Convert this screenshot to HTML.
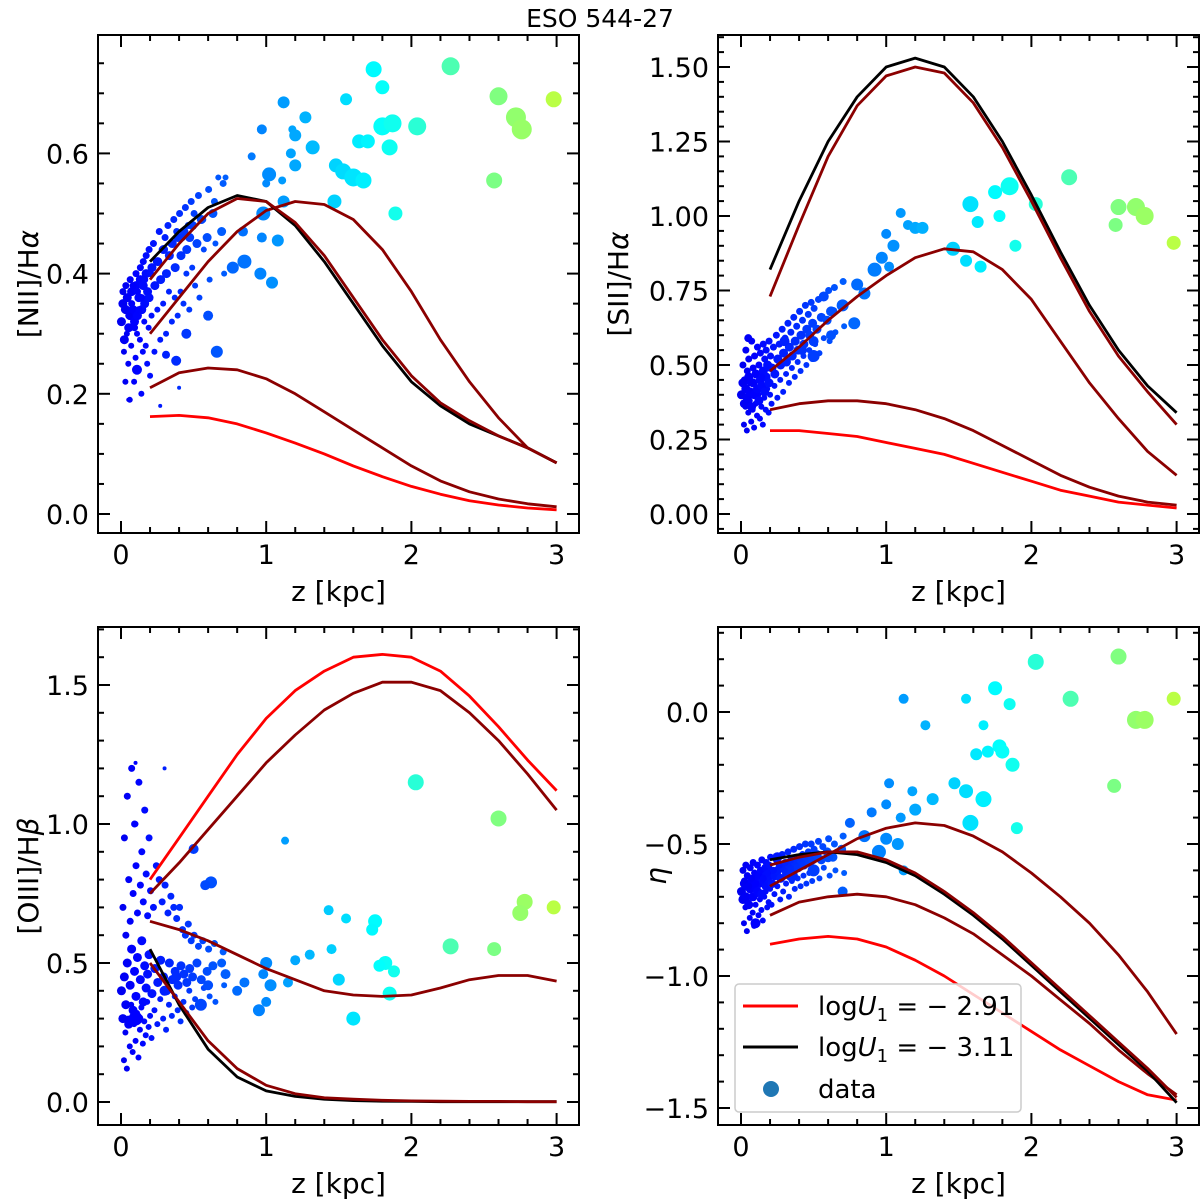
<!DOCTYPE html>
<html><head><meta charset="utf-8"><style>
body{margin:0;background:#fff}
svg{display:block;font-family:"DejaVu Sans","Liberation Sans",sans-serif}
</style></head><body>
<svg id="fig" width="1200" height="1202" viewBox="0 0 1200 1202" xmlns="http://www.w3.org/2000/svg">
<rect width="1200" height="1202" fill="#fff"/>
<text x="600" y="27" font-size="25" text-anchor="middle">ESO 544-27</text>
</svg>
<script>
const modelZ=[0.2,0.4,0.6,0.8,1.0,1.2,1.4,1.6,1.8,2.0,2.2,2.4,2.6,2.8,3.0];
const niiBlack=[0.42,0.47,0.51,0.53,0.52,0.48,0.42,0.35,0.28,0.22,0.18,0.15,0.13,0.11,0.085];
const niiDark1=[0.39,0.45,0.50,0.525,0.52,0.485,0.43,0.36,0.29,0.23,0.185,0.155,0.13,0.11,0.085];
const niiDark2=[0.30,0.36,0.42,0.47,0.505,0.52,0.515,0.49,0.44,0.37,0.29,0.22,0.16,0.11,0.085];
const niiDark3=[0.21,0.235,0.243,0.24,0.225,0.20,0.17,0.14,0.11,0.08,0.055,0.037,0.025,0.017,0.012];
const niiRed=[0.162,0.164,0.16,0.15,0.135,0.118,0.10,0.08,0.062,0.046,0.033,0.022,0.015,0.01,0.007];
const siiBlack=[0.82,1.05,1.25,1.40,1.50,1.53,1.50,1.40,1.25,1.07,0.88,0.70,0.55,0.43,0.34];
const siiDark1=[0.73,0.97,1.20,1.37,1.47,1.50,1.48,1.38,1.23,1.05,0.86,0.68,0.53,0.41,0.30];
const siiDark2=[0.48,0.56,0.65,0.73,0.80,0.86,0.89,0.88,0.82,0.72,0.58,0.44,0.32,0.21,0.13];
const siiDark3=[0.35,0.37,0.38,0.38,0.37,0.35,0.32,0.28,0.23,0.18,0.13,0.09,0.06,0.04,0.03];
const siiRed=[0.28,0.28,0.27,0.26,0.24,0.22,0.20,0.17,0.14,0.11,0.08,0.06,0.04,0.03,0.02];
const oiiiRed=[0.80,0.95,1.10,1.25,1.38,1.48,1.55,1.60,1.61,1.60,1.55,1.46,1.35,1.23,1.12];
const oiiiDark1=[0.75,0.86,0.98,1.10,1.22,1.32,1.41,1.47,1.51,1.51,1.48,1.40,1.30,1.18,1.05];
const oiiiDark2=[0.65,0.62,0.58,0.53,0.48,0.44,0.40,0.385,0.38,0.385,0.41,0.44,0.455,0.455,0.435];
const oiiiDark3=[0.50,0.36,0.22,0.12,0.06,0.03,0.015,0.01,0.006,0.004,0.003,0.002,0.002,0.001,0.001];
const oiiiBlack=[0.55,0.35,0.19,0.09,0.04,0.02,0.01,0.005,0.003,0.002,0.001,0.001,0.001,0.001,0.001];
const etaBlack=[-0.56,-0.54,-0.53,-0.54,-0.57,-0.62,-0.69,-0.77,-0.86,-0.96,-1.06,-1.16,-1.26,-1.36,-1.48];
const etaDark1=[-0.58,-0.55,-0.53,-0.53,-0.56,-0.61,-0.68,-0.76,-0.85,-0.95,-1.05,-1.15,-1.25,-1.35,-1.46];
const etaDark2=[-0.66,-0.60,-0.54,-0.48,-0.44,-0.42,-0.43,-0.47,-0.53,-0.61,-0.70,-0.80,-0.92,-1.06,-1.22];
const etaDark3=[-0.77,-0.72,-0.70,-0.69,-0.70,-0.73,-0.78,-0.84,-0.92,-1.00,-1.09,-1.18,-1.28,-1.37,-1.45];
const etaRed=[-0.88,-0.86,-0.85,-0.86,-0.89,-0.94,-1.00,-1.07,-1.14,-1.21,-1.28,-1.34,-1.40,-1.45,-1.47];

const cloudZ=[0.01,0.02,0.03,0.04,0.05,0.06,0.07,0.08,0.09,0.1,0.11,0.12,0.13,0.14,0.15,0.16,0.17,0.18,0.19,0.2,0.22,0.24,0.26,0.28,0.3,0.32,0.34,0.36,0.38,0.4,0.42,0.44,0.46,0.48,0.5,0.53,0.56,0.6,0.64,0.7];
const niiCloudLow=[0.27,0.22,0.3,0.25,0.19,0.28,0.31,0.22,0.26,0.3,0.24,0.29,0.2,0.27,0.32,0.28,0.25,0.31,0.23,0.33,0.27,0.34,0.29,0.35,0.3,0.37,0.32,0.36,0.33,0.37,0.35,0.4,0.34,0.41,0.38,0.36,0.44,0.39,0.45,0.4];
const niiCloudMid=[0.32,0.35,0.29,0.34,0.36,0.31,0.33,0.37,0.34,0.32,0.38,0.33,0.36,0.39,0.34,0.38,0.35,0.4,0.37,0.36,0.41,0.38,0.42,0.39,0.44,0.4,0.43,0.45,0.41,0.46,0.43,0.47,0.44,0.46,0.48,0.45,0.49,0.46,0.5,0.47];
const niiCloudHigh=[0.37,0.34,0.38,0.36,0.33,0.39,0.35,0.38,0.31,0.4,0.37,0.34,0.41,0.36,0.42,0.39,0.43,0.37,0.44,0.4,0.45,0.42,0.47,0.44,0.46,0.48,0.45,0.49,0.47,0.5,0.46,0.51,0.48,0.52,0.5,0.53,0.49,0.54,0.52,0.55];
const siiCloudLow=[0.3,0.36,0.28,0.34,0.38,0.31,0.35,0.29,0.37,0.33,0.4,0.32,0.36,0.3,0.39,0.35,0.42,0.34,0.4,0.37,0.43,0.39,0.45,0.41,0.47,0.44,0.49,0.46,0.51,0.48,0.53,0.5,0.55,0.52,0.57,0.54,0.59,0.58,0.61,0.63];
const siiCloudMid=[0.4,0.44,0.37,0.42,0.39,0.46,0.41,0.36,0.44,0.4,0.47,0.42,0.38,0.45,0.43,0.48,0.41,0.46,0.5,0.44,0.49,0.47,0.52,0.5,0.54,0.51,0.56,0.53,0.58,0.55,0.6,0.57,0.62,0.6,0.64,0.62,0.66,0.65,0.68,0.7];
const siiCloudHigh=[0.5,0.45,0.55,0.48,0.52,0.44,0.58,0.49,0.53,0.47,0.56,0.5,0.54,0.46,0.57,0.52,0.55,0.49,0.58,0.53,0.56,0.6,0.57,0.62,0.59,0.64,0.61,0.66,0.63,0.68,0.65,0.7,0.67,0.71,0.69,0.72,0.73,0.75,0.76,0.78];
const oiiiCloudLow=[0.15,0.25,0.12,0.3,0.2,0.35,0.18,0.28,0.22,0.32,0.16,0.26,0.34,0.21,0.29,0.24,0.36,0.27,0.31,0.23,0.33,0.28,0.37,0.3,0.26,0.35,0.31,0.38,0.33,0.29,0.36,0.32,0.4,0.34,0.37,0.35,0.41,0.38,0.36,0.42];
const oiiiCloudMid=[0.4,0.3,0.45,0.35,0.5,0.28,0.42,0.55,0.33,0.47,0.38,0.52,0.3,0.44,0.58,0.36,0.49,0.41,0.46,0.53,0.39,0.48,0.43,0.51,0.45,0.4,0.5,0.44,0.47,0.42,0.49,0.46,0.43,0.48,0.45,0.5,0.44,0.47,0.49,0.5];
const oiiiCloudHigh=[0.7,0.95,0.6,1.1,0.8,0.65,1.2,0.75,1.0,0.85,0.68,1.15,0.78,0.9,0.72,1.05,0.82,0.67,0.95,0.76,0.7,0.85,0.8,0.72,0.78,0.68,0.74,0.7,0.66,0.7,0.62,0.6,0.64,0.58,0.6,0.56,0.58,0.55,0.57,0.54];
const etaCloudLow=[-0.8,-0.74,-0.83,-0.72,-0.78,-0.7,-0.76,-0.81,-0.73,-0.69,-0.77,-0.71,-0.75,-0.79,-0.7,-0.68,-0.74,-0.72,-0.67,-0.73,-0.69,-0.66,-0.71,-0.68,-0.65,-0.7,-0.64,-0.67,-0.63,-0.66,-0.62,-0.65,-0.61,-0.64,-0.6,-0.63,-0.59,-0.62,-0.6,-0.61];
const etaCloudMid=[-0.68,-0.71,-0.65,-0.7,-0.66,-0.73,-0.67,-0.64,-0.7,-0.66,-0.63,-0.68,-0.65,-0.62,-0.69,-0.64,-0.61,-0.66,-0.63,-0.6,-0.65,-0.62,-0.6,-0.63,-0.59,-0.61,-0.58,-0.6,-0.57,-0.59,-0.56,-0.58,-0.55,-0.57,-0.56,-0.54,-0.56,-0.53,-0.55,-0.52];
const etaCloudHigh=[-0.6,-0.64,-0.58,-0.62,-0.66,-0.59,-0.63,-0.57,-0.61,-0.65,-0.58,-0.62,-0.6,-0.56,-0.63,-0.59,-0.57,-0.61,-0.58,-0.55,-0.6,-0.56,-0.58,-0.54,-0.57,-0.53,-0.56,-0.52,-0.55,-0.51,-0.54,-0.5,-0.53,-0.5,-0.52,-0.49,-0.51,-0.48,-0.5,-0.47];

const niiPoints=[[1.74,0.74,8],[2.27,0.745,9],[1.8,0.71,7],[2.6,0.695,9],[2.98,0.69,8],[1.12,0.685,6],[1.55,0.69,6],[1.27,0.66,6],[0.97,0.64,5],[1.18,0.64,4],[1.8,0.645,9],[1.87,0.65,9],[2.04,0.645,9],[2.72,0.66,10],[2.76,0.64,10],[1.2,0.63,6],[1.64,0.62,7],[1.7,0.62,7],[1.32,0.61,7],[1.85,0.61,8],[0.9,0.595,4],[1.17,0.6,5],[1.2,0.58,6],[1.48,0.58,7],[1.53,0.57,8],[1.6,0.56,9],[1.67,0.555,8],[2.57,0.555,8],[1.02,0.565,7],[1.11,0.555,4],[1.0,0.55,4],[0.67,0.56,3],[0.72,0.56,3],[1.47,0.52,7],[1.89,0.5,7],[1.12,0.52,6],[0.98,0.5,7],[0.84,0.47,5],[0.97,0.46,5],[1.08,0.455,6],[0.85,0.42,7],[0.77,0.41,6],[0.96,0.4,6],[1.04,0.385,6],[0.6,0.33,5],[0.45,0.3,5],[0.66,0.27,6],[0.31,0.265,4],[0.38,0.255,5],[0.11,0.24,5],[0.4,0.21,2],[0.05,0.19,2],[0.27,0.18,2]];
const siiPoints=[[1.58,1.04,8],[1.63,0.98,6],[1.75,1.08,7],[1.85,1.1,9],[1.78,1.0,6],[2.03,1.04,7],[2.26,1.13,8],[2.6,1.03,8],[2.72,1.03,9],[2.78,1.0,9],[2.58,0.97,7],[2.98,0.91,7],[1.1,1.01,5],[1.15,0.97,5],[1.2,0.96,6],[1.25,0.96,6],[1.46,0.89,7],[1.55,0.85,6],[1.65,0.83,6],[1.89,0.9,6],[1.0,0.94,5],[1.05,0.9,6],[0.97,0.86,6],[0.92,0.82,7],[1.02,0.83,5],[0.8,0.77,6],[0.85,0.74,6],[0.78,0.64,6],[0.62,0.6,5],[0.5,0.53,6],[0.42,0.55,5],[0.3,0.58,5],[0.05,0.59,4],[0.5,0.58,5],[0.62,0.68,5],[0.7,0.7,6],[0.57,0.73,5]];
const oiiiPoints=[[2.03,1.15,8],[2.6,1.02,8],[1.13,0.94,4],[0.5,0.91,5],[0.62,0.79,6],[0.58,0.78,5],[0.1,1.0,3],[1.43,0.69,5],[1.55,0.66,5],[1.75,0.65,7],[1.73,0.62,6],[2.78,0.72,8],[2.75,0.68,8],[2.98,0.7,7],[2.57,0.55,7],[2.27,0.56,8],[1.82,0.5,7],[1.78,0.49,6],[1.88,0.47,6],[1.85,0.39,7],[1.6,0.3,7],[1.5,0.44,6],[1.45,0.55,5],[1.3,0.53,5],[1.2,0.51,5],[1.0,0.5,6],[0.98,0.46,5],[1.03,0.42,6],[0.85,0.43,5],[1.0,0.36,5],[0.95,0.33,6],[0.8,0.4,5],[0.72,0.46,5],[0.6,0.42,5],[0.55,0.35,6],[0.38,0.45,5],[0.3,0.4,5],[0.1,0.3,7],[1.15,0.43,5],[0.1,1.22,2],[0.3,1.2,2],[0.05,1.1,2]];
const etaPoints=[[2.03,0.19,8],[2.6,0.21,8],[2.98,0.05,7],[2.72,-0.03,9],[2.78,-0.03,9],[2.27,0.05,8],[1.75,0.09,7],[1.85,0.03,6],[1.12,0.05,5],[1.55,0.05,5],[1.27,-0.05,5],[1.67,-0.05,5],[1.78,-0.13,7],[1.8,-0.15,7],[1.87,-0.2,7],[1.62,-0.16,6],[1.7,-0.15,6],[1.47,-0.27,6],[1.55,-0.3,7],[1.67,-0.33,8],[2.57,-0.28,7],[1.58,-0.42,8],[1.9,-0.44,6],[1.02,-0.27,5],[1.18,-0.3,5],[1.32,-0.33,6],[1.2,-0.37,6],[1.0,-0.35,5],[0.9,-0.38,5],[1.1,-0.4,5],[0.75,-0.42,5],[0.85,-0.47,6],[1.0,-0.48,6],[1.08,-0.5,6],[0.95,-0.53,7],[0.6,-0.55,5],[0.5,-0.6,6],[0.7,-0.68,5],[0.35,-0.62,6],[0.1,-0.8,5],[0.25,-0.55,5],[1.12,-0.6,5]];

const xTicks=[0,1,2,3];
const niiTicks=["0.0","0.2","0.4","0.6"];
const siiTicks=["0.00","0.25","0.50","0.75","1.00","1.25","1.50"];
const oiiiTicks=["0.0","0.5","1.0","1.5"];
const etaTicks=["−1.5","−1.0","−0.5","0.0"];

const NS="http://www.w3.org/2000/svg";
const svg=document.getElementById('fig');
function mk(tag,attrs,parent){const e=document.createElementNS(NS,tag);for(const k in attrs)e.setAttribute(k,attrs[k]);(parent||svg).appendChild(e);return e;}
function jet(z){let t=0.11+0.15*z;const c=v=>Math.round(255*Math.max(0,Math.min(1,v)));
 let r=Math.min(4*t-1.5,-4*t+4.5),g=Math.min(4*t-0.5,-4*t+3.5),b=Math.min(4*t+0.5,-4*t+2.5);return `rgb(${c(r)},${c(g)},${c(b)})`;}

function panel(o){
 const g=mk('g',{});
 
 
 const L=o.L,R=o.L+481,T=o.T,B=o.T+498;
 const xs=v=>o.x0+v*145.2, ys=v=>o.y0-v*o.ys;
 const clip='clip-'+o.name;
 const cp=mk('clipPath',{id:clip},g);mk('rect',{x:L,y:T,width:481,height:498},cp);
 const plot=mk('g',{'clip-path':`url(#${clip})`},g);
 [o.cl,o.cm,o.ch].forEach((arr,k)=>{arr.forEach((v,i)=>{
   const c=mk('circle',{cx:xs(cloudZ[i])+[1.5,-1,0.5][k],cy:ys(v),r:[3,4.5,3.5][k],fill:jet(cloudZ[i])},plot);
   
   
 });});
 o.pts.forEach(p=>{
   const c=mk('circle',{cx:xs(p[0]),cy:ys(p[1]),r:p[2],fill:jet(p[0])},plot);
   
   
 });
 o.lines.forEach(ln=>{
   const d=modelZ.map((z,i)=>(i?'L':'M')+xs(z).toFixed(1)+','+ys(ln.v[i]).toFixed(1)).join('');
   const p=mk('path',{d:d,fill:'none',stroke:ln.c,'stroke-width':2.8,'stroke-linejoin':'round'},plot);
   
   
 });
 mk('rect',{x:L,y:T,width:481,height:498,fill:'none',stroke:'#000','stroke-width':2},g);
 for(let m=0;m<=15;m++){const v=m*0.2,x=xs(v);if(x<L||x>R)continue;const maj=m%5===0;const len=maj?12:6;
   mk('line',{x1:x,y1:B,x2:x,y2:B-len,stroke:'#000','stroke-width':2},g);
   mk('line',{x1:x,y1:T,x2:x,y2:T+len,stroke:'#000','stroke-width':2},g);}
 xTicks.forEach(v=>{const t=mk('text',{x:xs(v),y:B+31,'font-size':27,'text-anchor':'middle'},g);t.textContent=v;
   
   });
 for(let v=o.ymin;v<=o.ymax+1e-9;v+=o.minor){const y=ys(v);if(y<T||y>B)continue;
   const maj=Math.abs(Math.round(v/o.major)*o.major-v)<1e-6;const len=maj?12:6;
   mk('line',{x1:L,y1:y,x2:L+len,y2:y,stroke:'#000','stroke-width':2},g);
   mk('line',{x1:R,y1:y,x2:R-len,y2:y,stroke:'#000','stroke-width':2},g);}
 o.ticks.forEach(s=>{const v=parseFloat(s.replace('−','-'));const t=mk('text',{x:L-9,y:ys(v)+10,'font-size':27,'text-anchor':'end'},g);t.textContent=s;
   
   });
 const xl=mk('text',{x:(L+R)/2,y:B+68,'font-size':28,'text-anchor':'middle'},g);xl.textContent='z [kpc]';
 
 
 const yl=mk('text',{x:0,y:0,'font-size':28,'text-anchor':'middle',transform:`translate(${o.ylx},${(T+B)/2}) rotate(-90)`},g);yl.innerHTML=o.ylab;
 
 
}
const RD='#ff0000',DR='#8b0000',BK='#000';
panel({name:'panel-nii-halpha',L:98,T:35,x0:121,y0:514,ys:601,ymin:-0.05,ymax:0.8,minor:0.05,major:0.2,ticks:niiTicks,ylx:38,ylab:'[NII]/H<tspan font-style="italic">α</tspan>',
 cl:niiCloudLow,cm:niiCloudMid,ch:niiCloudHigh,pts:niiPoints,
 lines:[{v:niiRed,c:RD,n:'model-red'},{v:niiDark3,c:DR,n:'model-darkred-3'},{v:niiDark2,c:DR,n:'model-darkred-2'},{v:niiBlack,c:BK,n:'model-black'},{v:niiDark1,c:DR,n:'model-darkred-1'}]});
panel({name:'panel-sii-halpha',L:718,T:35,x0:741,y0:514,ys:298,ymin:-0.1,ymax:1.6,minor:0.05,major:0.25,ticks:siiTicks,ylx:628,ylab:'[SII]/H<tspan font-style="italic">α</tspan>',
 cl:siiCloudLow,cm:siiCloudMid,ch:siiCloudHigh,pts:siiPoints,
 lines:[{v:siiRed,c:RD,n:'model-red'},{v:siiDark3,c:DR,n:'model-darkred-3'},{v:siiDark2,c:DR,n:'model-darkred-2'},{v:siiBlack,c:BK,n:'model-black'},{v:siiDark1,c:DR,n:'model-darkred-1'}]});
panel({name:'panel-oiii-hbeta',L:98,T:627,x0:121,y0:1102,ys:278,ymin:-0.1,ymax:1.7,minor:0.1,major:0.5,ticks:oiiiTicks,ylx:38,ylab:'[OIII]/H<tspan font-style="italic">β</tspan>',
 cl:oiiiCloudLow,cm:oiiiCloudMid,ch:oiiiCloudHigh,pts:oiiiPoints,
 lines:[{v:oiiiRed,c:RD,n:'model-red'},{v:oiiiDark1,c:DR,n:'model-darkred-1'},{v:oiiiDark2,c:DR,n:'model-darkred-2'},{v:oiiiBlack,c:BK,n:'model-black'},{v:oiiiDark3,c:DR,n:'model-darkred-3'}]});
panel({name:'panel-eta',L:718,T:627,x0:741,y0:712,ys:264,ymin:-1.6,ymax:0.3,minor:0.1,major:0.5,ticks:etaTicks,ylx:666,ylab:'<tspan font-style="italic">η</tspan>',
 cl:etaCloudLow,cm:etaCloudMid,ch:etaCloudHigh,pts:etaPoints,
 lines:[{v:etaRed,c:RD,n:'model-red'},{v:etaDark3,c:DR,n:'model-darkred-3'},{v:etaDark2,c:DR,n:'model-darkred-2'},{v:etaBlack,c:BK,n:'model-black'},{v:etaDark1,c:DR,n:'model-darkred-1'}]});

const lg=mk('g',{});


mk('rect',{x:735,y:984,width:286,height:128,rx:4,fill:'rgba(255,255,255,0.8)',stroke:'#ccc','stroke-width':1.5},lg);
mk('line',{x1:743,y1:1006,x2:798,y2:1006,stroke:RD,'stroke-width':3},lg);
mk('line',{x1:743,y1:1047,x2:798,y2:1047,stroke:BK,'stroke-width':3},lg);
mk('circle',{cx:771,cy:1089,r:8,fill:'#1f77b4'},lg);
const l1=mk('text',{x:818,y:1015,'font-size':26},lg);l1.innerHTML='log<tspan font-style="italic">U</tspan><tspan font-size="18" dy="6">1</tspan><tspan dy="-6"> = − 2.91</tspan>';


const l2=mk('text',{x:818,y:1056,'font-size':26},lg);l2.innerHTML='log<tspan font-style="italic">U</tspan><tspan font-size="18" dy="6">1</tspan><tspan dy="-6"> = − 3.11</tspan>';


const l3=mk('text',{x:818,y:1098,'font-size':26},lg);l3.textContent='data';


</script>
</body></html>
